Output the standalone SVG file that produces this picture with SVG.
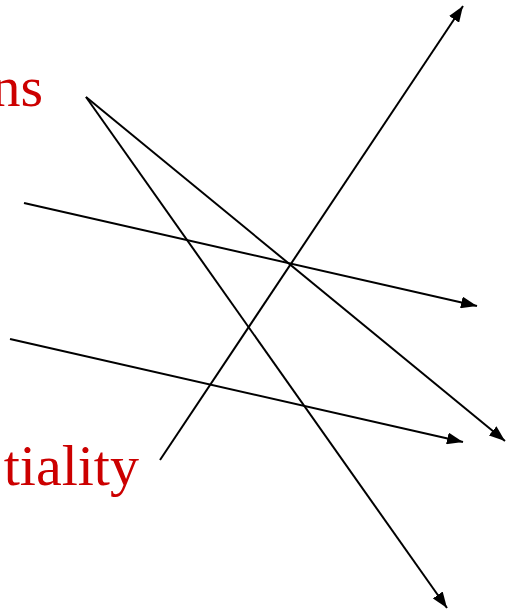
<svg xmlns="http://www.w3.org/2000/svg" width="506" height="611" viewBox="0 0 506 611">
<style>
.lbl{font-family:"Liberation Serif","Times New Roman",serif;font-size:58px;fill:#CC0000;text-anchor:end}
.c{stroke:#000;stroke-width:2;fill:none;marker-end:url(#ah)}
</style>
<defs>
<marker id="ah" viewBox="0 0 16 12" refX="16" refY="6" markerWidth="16" markerHeight="12" markerUnits="userSpaceOnUse" orient="auto">
<path d="M0,0 L16,6 L0,12 Z" fill="#000"/>
</marker>
</defs>
<rect width="506" height="611" fill="#fff"/>
<g id="label-ns"><text class="lbl" x="43" y="106">ns</text></g>
<g id="label-tiality"><text class="lbl" x="139" y="485">tiality</text></g>
<g id="connectors">
<line class="c" x1="160" y1="460" x2="463" y2="6"/>
<line class="c" x1="86" y1="97" x2="505" y2="441"/>
<line class="c" x1="86" y1="97" x2="447" y2="608"/>
<line class="c" x1="24" y1="203" x2="477" y2="306"/>
<line class="c" x1="10" y1="339" x2="463" y2="442"/>
</g>
</svg>
